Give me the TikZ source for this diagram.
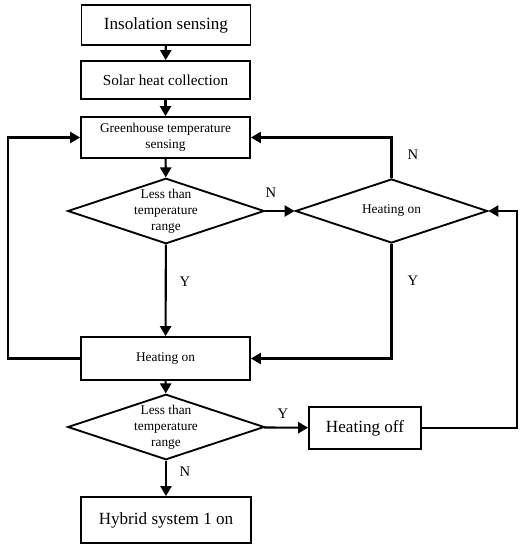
\documentclass[tikz,border=0pt]{standalone}
\usepackage{fontspec}
\setmainfont{Liberation Serif}
\usetikzlibrary{arrows.meta,positioning,shapes.geometric}

\begin{document}
\begin{tikzpicture}[x=0.03cm, y=-0.03cm, >={Triangle[length=8.5pt,width=9.5pt]},
  line width=1.8pt,
  box/.style={draw, line width=1.6pt, fill=white, minimum width=5.07cm, minimum height=1.2cm, inner sep=2pt, font=\fontsize{14.6}{16}\selectfont},
  sbox/.style={box, font=\fontsize{11.4}{13.7}\selectfont, align=center},
  dec/.style={draw, line width=1.6pt, diamond, aspect=3, inner sep=0pt, minimum width=5.76cm, minimum height=1.92cm, align=center, font=\fontsize{11.4}{13.7}\selectfont},
  yn/.style={font=\fontsize{12.5}{14}\selectfont}
]
\useasboundingbox (0,0) rectangle (526,550);
% main column
\node[box] (ins) at (166,25) {Insolation sensing};
\node[box, minimum height=1.14cm, font=\fontsize{13}{15}\selectfont] (sol) at (165.5,80) {Solar heat collection};
\node[sbox, minimum height=1.23cm] (gts) at (165.5,137.5) {Greenhouse temperature\\sensing};
\node[dec] (lt1) at (166,211) {Less than\\temperature\\range};
\node[dec] (hon) at (391.5,211) {Heating on};
\node[sbox, minimum height=1.29cm] (heat) at (165.5,358.5) {Heating on};
\node[dec] (lt2) at (166,427) {Less than\\temperature\\range};
\node[box, minimum width=3.36cm, minimum height=1.26cm] (off) at (365,428) {Heating off};
\node[box, minimum width=5.1cm, minimum height=1.38cm] (hyb) at (166,520) {Hybrid system 1 on};
% Y/N labels
\node[yn] (n1) at (271,193) {N};
\node[yn] (y1) at (185,282) {Y};
\node[yn] (n2) at (413,155) {N};
\node[yn] (y2) at (413,281) {Y};
\node[yn] (y3) at (283,414) {Y};
\node[yn] (n3) at (185,472) {N};
% loop corners
\coordinate (lcor) at (8,358.5);
\coordinate (rcor) at (517,428);
% arrows
\draw[->] (ins) -- (sol);
\draw[->] (sol) -- (gts);
\draw[->] (gts) -- (lt1);
\draw[->] (lt1) -- (hon);
\draw[->] (lt1) -- (heat);
\draw[->] (hon.north) |- (gts.east);
\draw[->] (hon.south) |- (heat.east);
\draw[->] (heat.west) -- (lcor) |- (gts.west);
\draw[->] (heat) -- (lt2);
\draw[->] (lt2) -- (off);
\draw[->] (off.east) -- (rcor) |- (hon.east);
\draw[->] (lt2) -- (hyb);
\end{tikzpicture}
\end{document}
